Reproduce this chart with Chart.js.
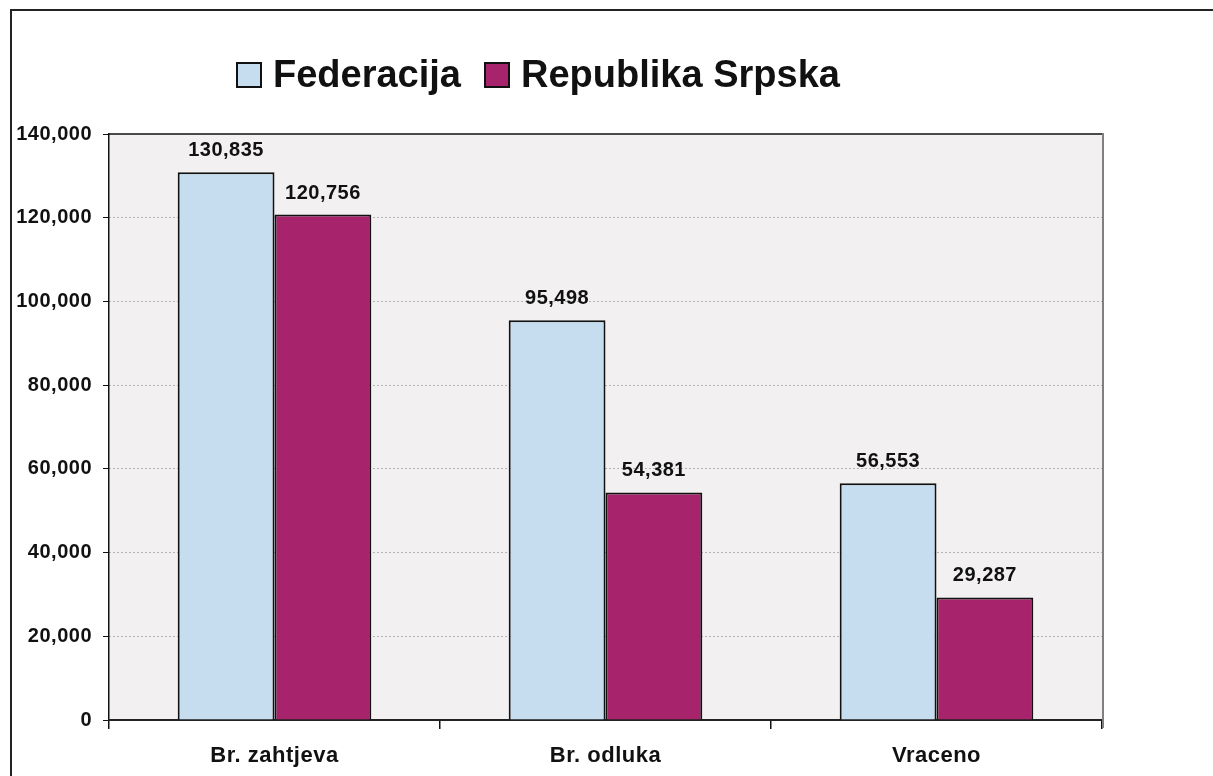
<!DOCTYPE html>
<html>
<head>
<meta charset="utf-8">
<script src="https://cdn.jsdelivr.net/npm/chart.js@4.4.1/dist/chart.umd.min.js"></script>
<style>
  body { margin: 0; background: #fff; }
  #wrap { position: relative; width: 1213px; height: 776px; overflow: hidden; }
  #frame { position: absolute; left: 10px; top: 9px; width: 1400px; height: 1000px;
           border-top: 2px solid #222; border-left: 2px solid #222; }
  #chart { position: absolute; left: 0; top: 0; }
</style>
</head>
<body>
<div id="wrap">
  <div id="frame"></div>
  <canvas id="chart" width="1213" height="776"></canvas>
</div>
<script>
// values
const categories = ["Br. zahtjeva", "Br. odluka", "Vraceno"];
const federacija = [130835, 95498, 56553];
const republikaSrpska = [120756, 54381, 29287];
const seriesNames = ["Federacija", "Republika Srpska"];
const yTicks = [0, 20000, 40000, 60000, 80000, 100000, 120000, 140000];

const FONT = "'Liberation Sans', Arial, sans-serif";
const fmt = (v) => v.toLocaleString("en-US");

// canvas text in the original is a touch spaced out
const spacing = {
  id: "spacing",
  beforeLayout(chart) { chart.ctx.letterSpacing = "0.5px"; },
  beforeDraw(chart) { chart.ctx.letterSpacing = "0.5px"; },
};

// grey plot background, black top edge, grey right edge
const plotFrame = {
  id: "plotFrame",
  beforeDraw(chart) {
    const { ctx, chartArea: a } = chart;
    ctx.save();
    ctx.fillStyle = "#F2F0F0";
    ctx.fillRect(a.left, a.top, a.right - a.left, a.bottom - a.top);
    ctx.restore();
  },
  beforeDatasetsDraw(chart) {
    const { ctx, chartArea: a } = chart;
    ctx.save();
    ctx.lineWidth = 1.5;
    ctx.strokeStyle = "#111";
    ctx.beginPath();
    ctx.moveTo(a.left, a.top);
    ctx.lineTo(a.right, a.top);
    ctx.stroke();
    ctx.lineWidth = 2;
    ctx.strokeStyle = "#808080";
    ctx.beginPath();
    ctx.moveTo(a.right + 1, a.top - 1);
    ctx.lineTo(a.right + 1, a.bottom + 8);
    ctx.stroke();
    ctx.restore();
  },
};

// value labels above each bar
const valueLabels = {
  id: "valueLabels",
  afterDatasetsDraw(chart) {
    const { ctx } = chart;
    ctx.save();
    ctx.font = "bold 20px " + FONT;
    ctx.fillStyle = "#111";
    ctx.textAlign = "center";
    ctx.textBaseline = "alphabetic";
    chart.data.datasets.forEach((ds, i) => {
      chart.getDatasetMeta(i).data.forEach((bar, j) => {
        ctx.fillText(fmt(ds.data[j]), bar.x, bar.y - 16);
      });
    });
    ctx.restore();
  },
};

// legend drawn across the top like the original
const topLegend = {
  id: "topLegend",
  afterDraw(chart) {
    const { ctx } = chart;
    ctx.save();
    ctx.letterSpacing = "0px";
    ctx.font = "bold 38px " + FONT;
    ctx.textBaseline = "alphabetic";
    ctx.textAlign = "left";
    let x = 237;
    chart.data.datasets.forEach((ds) => {
      ctx.fillStyle = ds.backgroundColor;
      ctx.fillRect(x, 63, 24, 24);
      ctx.lineWidth = 2;
      ctx.strokeStyle = "#111";
      ctx.strokeRect(x, 63, 24, 24);
      ctx.fillStyle = "#111";
      ctx.fillText(ds.label, x + 36, 87);
      x += 36 + ctx.measureText(ds.label).width + 24;
    });
    ctx.restore();
  },
};

new Chart(document.getElementById("chart"), {
  type: "bar",
  data: {
    labels: categories,
    datasets: [
      {
        label: seriesNames[0],
        data: federacija,
        backgroundColor: "#C6DCEF",
        borderColor: "#111",
        borderWidth: 2,
      },
      {
        label: seriesNames[1],
        data: republikaSrpska,
        backgroundColor: "#A7246D",
        borderColor: "#111",
        borderWidth: 2,
      },
    ],
  },
  options: {
    responsive: false,
    animation: false,
    devicePixelRatio: 1,
    barPercentage: 1,
    categoryPercentage: 0.585,
    layout: { padding: { top: 134, right: 111, left: 0, bottom: 0 } },
    plugins: { legend: { display: false }, tooltip: { enabled: false } },
    scales: {
      y: {
        min: 0,
        max: 140000,
        afterBuildTicks: (scale) => { scale.ticks = yTicks.map((v) => ({ value: v })); },
        afterFit: (scale) => { scale.width = 109; },
        ticks: {
          callback: (v) => fmt(v),
          color: "#111",
          font: { family: FONT, size: 20, weight: "bold" },
          padding: 11,
        },
        grid: {
          color: (c) => (c.tick && (c.tick.value === 0 || c.tick.value === 140000) ? "rgba(0,0,0,0)" : "#777"),
          tickColor: "#111",
          tickLength: 6,
          tickBorderDash: [6, 0],
          lineWidth: 1,
        },
        border: { color: "#111", width: 1.5, dash: [1, 3] },
      },
      x: {
        afterFit: (scale) => { scale.height = 56; },
        ticks: {
          color: "#111",
          font: { family: FONT, size: 22, weight: "bold" },
          padding: 14,
        },
        grid: {
          offset: true,
          drawOnChartArea: false,
          drawTicks: true,
          tickLength: 9,
          tickColor: "#111",
          lineWidth: 1.5,
        },
        border: { color: "#222", width: 2 },
      },
    },
  },
  plugins: [spacing, plotFrame, valueLabels, topLegend],
});
</script>
</body>
</html>
